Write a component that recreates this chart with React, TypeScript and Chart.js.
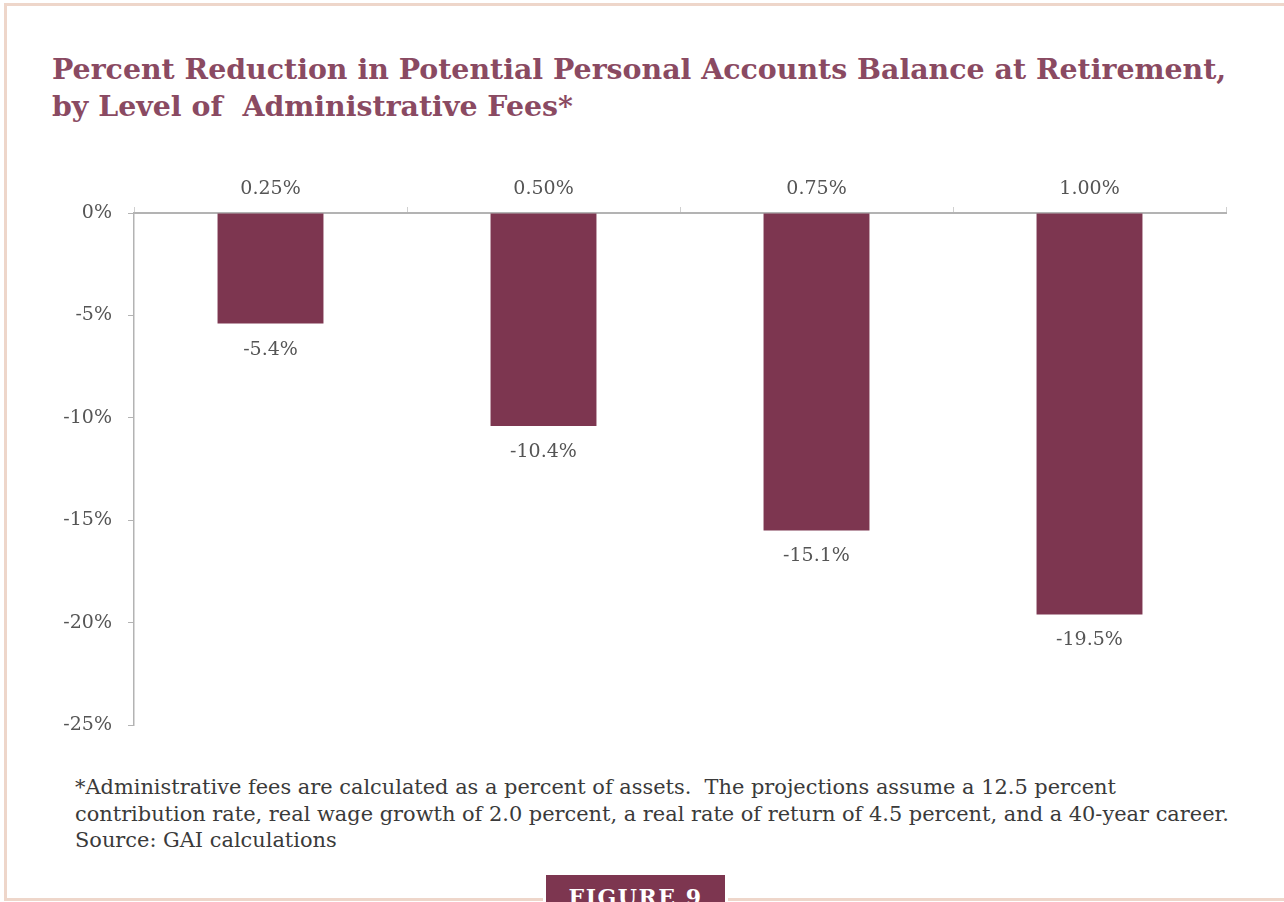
import React, { useEffect, useRef } from "react";
import { Chart, registerables } from "chart.js";

Chart.register(...registerables);

const categories = ["0.25%", "0.50%", "0.75%", "1.00%"];
const reductions = [-5.4, -10.4, -15.5, -19.6];
const valueLabels = ["-5.4%", "-10.4%", "-15.1%", "-19.5%"];
const yTicks = [0, -5, -10, -15, -20, -25];

const BAR = "#7d3650";
const TITLE = "#8a4a62";
const FRAME = "#eed6ca";
const AXIS = "#b3b3b3";
const TXT = "#555555";
const FONT = "'DejaVu Serif', serif";

const valueLabelPlugin = {
  id: "valueLabels",
  afterDatasetsDraw(chart: any) {
    const ctx = chart.ctx;
    const meta = chart.getDatasetMeta(0);
    ctx.save();
    ctx.font = `19px ${FONT}`;
    ctx.fillStyle = TXT;
    ctx.textAlign = "center";
    ctx.textBaseline = "middle";
    meta.data.forEach((bar: any, i: number) => {
      ctx.fillText(valueLabels[i], bar.x, bar.y + 26);
    });
    ctx.restore();
  },
};

function BarChart() {
  const ref = useRef<HTMLCanvasElement | null>(null);
  useEffect(() => {
    if (!ref.current) return;
    const chart = new Chart(ref.current, {
      type: "bar",
      data: {
        labels: categories,
        datasets: [
          {
            data: reductions,
            backgroundColor: BAR,
            borderWidth: 0,
            categoryPercentage: 1,
            barPercentage: 0.388,
          },
        ],
      },
      options: {
        animation: false,
        responsive: false,
        maintainAspectRatio: false,
        layout: { padding: { left: 0, right: 58, top: 0, bottom: 46 } },
        plugins: {
          legend: { display: false },
          tooltip: { enabled: false },
        },
        scales: {
          x: {
            position: "top",
            offset: true,
            grid: {
              display: true,
              offset: true,
              drawOnChartArea: false,
              drawTicks: true,
              tickLength: 6,
              color: "#d0d0d0",
              lineWidth: 1,
            },
            border: { display: true, color: AXIS, width: 2 },
            ticks: {
              color: TXT,
              font: { family: FONT, size: 19 },
              padding: 7,
              maxRotation: 0,
            },
            afterFit(scale: any) {
              scale.height = 62;
            },
          },
          y: {
            min: -25,
            max: 0,
            afterBuildTicks(scale: any) {
              scale.ticks = yTicks.map((v) => ({ value: v }));
            },
            grid: {
              display: true,
              drawOnChartArea: false,
              drawTicks: true,
              tickLength: 6,
              color: AXIS,
            },
            border: { display: true, color: AXIS, width: 1.5 },
            ticks: {
              color: TXT,
              font: { family: FONT, size: 19 },
              padding: 16,
              callback: (v: any) => `${v}%`,
            },
            afterFit(scale: any) {
              scale.width = 134;
            },
          },
        },
      },
      plugins: [valueLabelPlugin],
    });
    return () => chart.destroy();
  }, []);
  return (
    <canvas
      ref={ref}
      width={1284}
      height={620}
      style={{ position: "absolute", left: 0, top: 151, width: 1284, height: 620 }}
    />
  );
}

export default function App() {
  return (
    <div
      style={{
        position: "absolute",
        left: 0,
        top: 0,
        width: 1284,
        height: 902,
        overflow: "hidden",
        background: "#ffffff",
      }}
    >
      <div
        style={{
          position: "absolute",
          left: 4,
          top: 3,
          width: 1300,
          height: 898,
          borderTop: `3px solid ${FRAME}`,
          borderLeft: `3px solid ${FRAME}`,
          borderBottom: `3px solid ${FRAME}`,
          boxSizing: "border-box",
        }}
      />
      <div
        style={{
          position: "absolute",
          left: 52,
          top: 51,
          fontFamily: FONT,
          fontWeight: "bold",
          fontSize: 28.4,
          lineHeight: "37px",
          color: TITLE,
          whiteSpace: "pre",
        }}
      >
        {"Percent Reduction in Potential Personal Accounts Balance at Retirement,\nby Level of  Administrative Fees*"}
      </div>
      <BarChart />
      <div
        style={{
          position: "absolute",
          left: 75,
          top: 774,
          fontFamily: FONT,
          fontSize: 20.9,
          lineHeight: "26.5px",
          color: "#3a3a3a",
          whiteSpace: "pre",
        }}
      >
        {"*Administrative fees are calculated as a percent of assets.  The projections assume a 12.5 percent\ncontribution rate, real wage growth of 2.0 percent, a real rate of return of 4.5 percent, and a 40-year career.\nSource: GAI calculations"}
      </div>
      <div
        style={{
          position: "absolute",
          left: 543,
          top: 890,
          width: 185,
          height: 12,
          background: "#ffffff",
        }}
      />
      <div
        style={{
          position: "absolute",
          left: 546,
          top: 875,
          width: 179,
          height: 40,
          boxSizing: "border-box",
          paddingTop: 11,
          background: BAR,
          color: "#ffffff",
          fontFamily: FONT,
          fontWeight: "bold",
          fontSize: 22,
          letterSpacing: 1.5,
          textAlign: "center",
          lineHeight: "22px",
        }}
      >
        FIGURE 9
      </div>
    </div>
  );
}
